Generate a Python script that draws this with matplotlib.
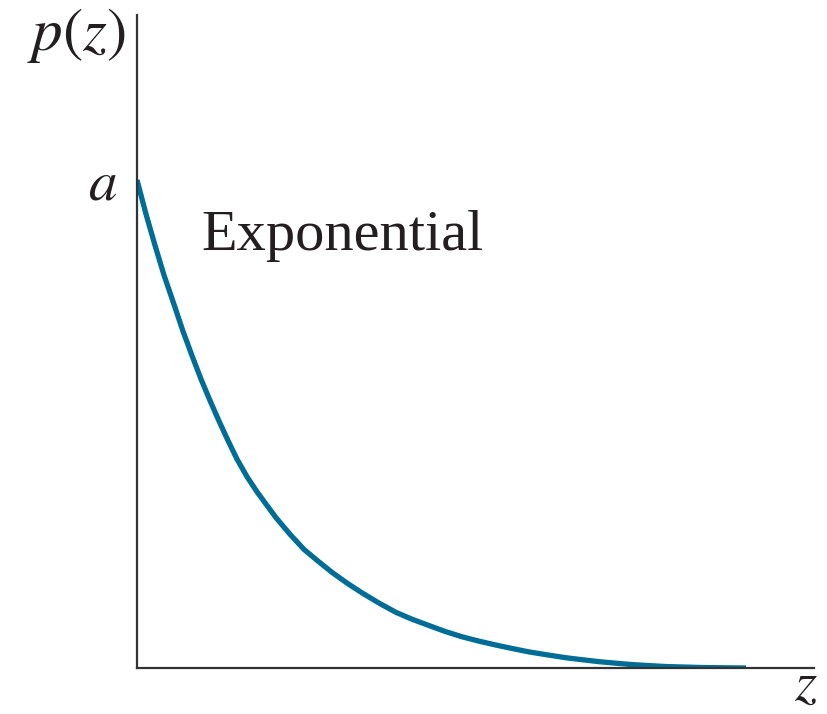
import matplotlib
matplotlib.use("Agg")
import matplotlib.pyplot as plt

plt.rcParams["mathtext.fontset"] = "stix"
plt.rcParams["font.family"] = ["Liberation Serif", "DejaVu Serif"]

# Sampled exponential density p(z), with p(0) = a (normalised to 1)
z_vals = [0.00, 0.09, 0.18, 0.27, 0.37, 0.46, 0.55, 0.64, 0.73, 0.82, 0.91, 1.00,
          1.10, 1.20, 1.30, 1.39, 1.53, 1.67, 1.81, 1.95, 2.10, 2.25, 2.42, 2.59,
          2.75, 2.92, 3.08, 3.25, 3.42, 3.59, 3.75, 3.92, 4.10, 4.29, 4.45, 4.62,
          4.78, 4.95, 5.12, 5.29, 5.47, 5.65, 5.85, 6.09]
p_vals = [1.000, 0.930, 0.866, 0.805, 0.745, 0.690, 0.640, 0.592, 0.548, 0.506,
          0.466, 0.428, 0.392, 0.361, 0.333, 0.308, 0.274, 0.243, 0.219, 0.196,
          0.174, 0.154, 0.133, 0.114, 0.100, 0.087, 0.075, 0.064, 0.055, 0.047,
          0.040, 0.033, 0.027, 0.021, 0.017, 0.013, 0.010, 0.007, 0.005, 0.003,
          0.002, 0.001, 0.0005, 0.000]

ytick_vals = [1.0]
ytick_labels = ["$a$"]
curve_label = "Exponential"

fig = plt.figure(figsize=(8.28, 7.14), dpi=100)
ax = fig.add_axes([137 / 828, 46 / 714, 677 / 828, 653 / 714])

ax.plot(z_vals, p_vals, color="#006d97", lw=3.8, solid_capstyle="butt",
        solid_joinstyle="round", zorder=2)

ax.set_xlim(0, 6.77)
ax.set_ylim(0, 1.338)

for side in ("top", "right"):
    ax.spines[side].set_visible(False)
for side in ("left", "bottom"):
    ax.spines[side].set_color("#333333")
    ax.spines[side].set_linewidth(1.6)
    ax.spines[side].set_zorder(3)

ax.set_xticks([])
ax.set_yticks(ytick_vals)
ax.set_yticklabels(ytick_labels, fontsize=41, color="#231f20")
ax.tick_params(axis="y", length=0, pad=14)

ax.text(0.64, 0.857, curve_label, fontsize=42, color="#231f20",
        ha="left", va="baseline")

# axis titles placed at the ends of the axes
fig.text(126 / 828, 1 - 50 / 714, "$p(z)$", fontsize=44, color="#231f20",
         ha="right", va="baseline")
fig.text(806 / 828, 1 - 700 / 714, "$z$", fontsize=41, color="#231f20",
         ha="center", va="baseline")

fig.savefig("out.png", dpi=100, facecolor="white")
